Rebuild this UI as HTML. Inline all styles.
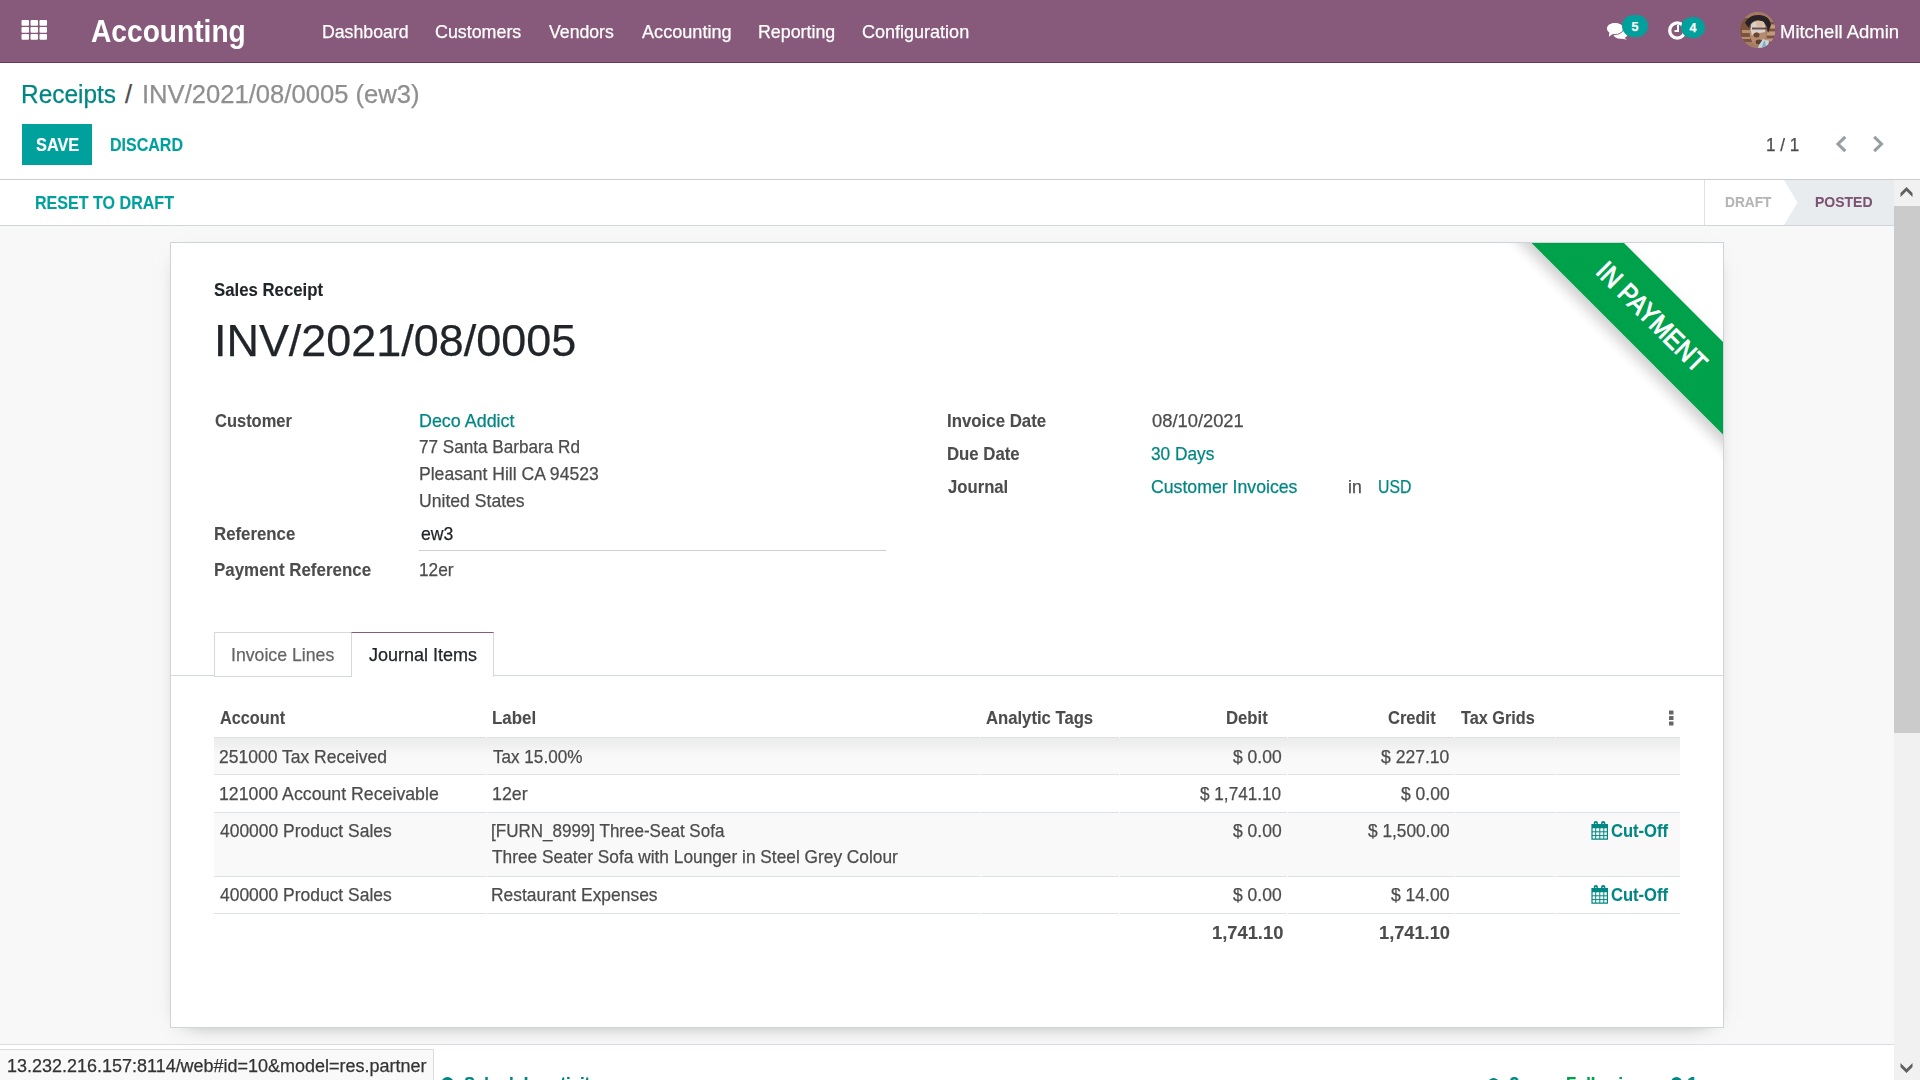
<!DOCTYPE html>
<html><head><meta charset="utf-8"><title>INV/2021/08/0005 (ew3)</title>
<style>
html,body{margin:0;padding:0;width:1920px;height:1080px;overflow:hidden;background:#fff;font-family:"Liberation Sans",sans-serif}
.a{position:absolute}
.t{position:absolute;white-space:nowrap;line-height:1;transform-origin:0 0;-webkit-text-stroke:0.25px currentColor}
</style></head><body>
<!-- navbar -->
<div class="a" style="left:0;top:0;width:1920px;height:62px;background:#875A7B;border-bottom:1px solid #623c58"></div>
<svg class="a" style="left:21px;top:20px" width="27" height="21" viewBox="0 0 27 21">
 <g fill="#fff">
  <rect x="0.5" y="0" width="7.5" height="5.8" rx="1"/><rect x="9.5" y="0" width="7.5" height="5.8" rx="1"/><rect x="18.5" y="0" width="7.5" height="5.8" rx="1"/>
  <rect x="0.5" y="7" width="7.5" height="5.8" rx="1"/><rect x="9.5" y="7" width="7.5" height="5.8" rx="1"/><rect x="18.5" y="7" width="7.5" height="5.8" rx="1"/>
  <rect x="0.5" y="14" width="7.5" height="5.8" rx="1"/><rect x="9.5" y="14" width="7.5" height="5.8" rx="1"/><rect x="18.5" y="14" width="7.5" height="5.8" rx="1"/>
 </g>
</svg>
<!-- chat icon -->
<svg class="a" style="left:1600px;top:10px" width="40" height="35" viewBox="0 0 40 35">
 <g fill="#fff">
  <ellipse cx="20.5" cy="24.2" rx="7" ry="4.6"/>
  <path d="M23 27 L27 29.8 L21 28.5 Z"/>
 </g>
 <g fill="#fff" stroke="#875A7B" stroke-width="1.1">
  <path d="M15 18.4 m-8.4 0 a8.4 6 0 1 0 16.8 0 a8.4 6 0 1 0 -16.8 0"/>
 </g>
 <g fill="#fff"><ellipse cx="15" cy="18.4" rx="7.9" ry="5.5"/><path d="M9.5 22 L8.8 26.8 L13.5 23.5 Z"/></g>
</svg>
<div class="a" style="left:1622px;top:15px;width:26px;height:22px;border-radius:11px;background:#00A09D"></div>
<div class="t" style="left:1631.5px;top:21px;font-size:12.5px;font-weight:bold;color:#fff">5</div>
<!-- clock icon -->
<svg class="a" style="left:1666.8px;top:20px" width="22" height="22" viewBox="0 0 22 22">
 <circle cx="10.3" cy="10.5" r="7.6" fill="none" stroke="#fff" stroke-width="3.3"/>
 <path d="M11 5 V11 H7.5" fill="none" stroke="#fff" stroke-width="2"/>
</svg>
<div class="a" style="left:1681px;top:17px;width:24px;height:21px;border-radius:11px;background:#00A09D"></div>
<div class="t" style="left:1689.5px;top:21.9px;font-size:12.5px;font-weight:bold;color:#fff">4</div>
<!-- avatar -->
<svg class="a" style="left:1740px;top:12px" width="36" height="36" viewBox="0 0 36 36">
 <defs><clipPath id="av"><ellipse cx="17.7" cy="18" rx="17.6" ry="18"/></clipPath></defs>
 <g clip-path="url(#av)">
  <rect x="0" y="0" width="36" height="36" fill="#a57c62"/>
  <path d="M0 6 H12 V30 H0 Z" fill="#6f4632" opacity=".75"/>
  <path d="M2 18 H11 V21 H2 Z M1 25 H10 V27 H1Z" fill="#b98f72"/>
  <path d="M26 10 H36 V12 H26Z M27 17 H36 V19 H27Z M27 24 H36 V26 H27Z M25 30 H36 V32 H25Z" fill="#6e4a38" opacity=".8"/>
  <path d="M26 13 H36 V16 H26Z M27 20 H36 V23 H27Z M26 27 H36 V29 H26Z" fill="#c09a7c"/>
  <path d="M5 11 Q9 2 20 3 Q30 4 31 13 L28 21 Q27 9 18 8 Q10 9 9 16 Z" fill="#262228"/>
  <ellipse cx="18" cy="21" rx="8.3" ry="12" fill="#b58c70"/>
  <path d="M11 12 Q16 7 24 10 Q26 15 25 20 L20 21 Q14 19 12 24 Q10 18 11 12Z" fill="#e2dcde" opacity=".85"/>
  <ellipse cx="20" cy="12" rx="4" ry="3" fill="#d8bca0"/>
  <path d="M12 15.5 H27 V17.5 H12Z" fill="#4c3028" opacity=".8"/>
  <ellipse cx="16.5" cy="23" rx="3" ry="2.5" fill="#6a4434"/>
  <ellipse cx="19" cy="30" rx="3.5" ry="2.5" fill="#5e3e30"/>
  <path d="M19 33 L23 27 L29 29 L28 36 H18Z" fill="#c8d8e0"/>
  <path d="M23 31 L25 28 L26 36 H22Z" fill="#7fb0c0"/>
 </g>
</svg>
<!-- control panel -->
<div class="a" style="left:0;top:179px;width:1920px;height:1px;background:#cccccc"></div>
<div class="a" style="left:22px;top:124px;width:70px;height:41px;background:#00A09D"></div>
<svg class="a" style="left:1834px;top:135px" width="54" height="19" viewBox="0 0 54 19">
 <path d="M11.3 1.8 L4 9 L11.3 16.2" fill="none" stroke="#999da6" stroke-width="3.1"/>
 <path d="M40.2 1.8 L47.5 9 L40.2 16.2" fill="none" stroke="#999da6" stroke-width="3.1"/>
</svg>
<!-- statusbar -->
<div class="a" style="left:0;top:225px;width:1920px;height:1px;background:#d0d4db"></div>
<div class="a" style="left:1704px;top:180px;width:1px;height:45px;background:#dee2e6"></div>
<svg class="a" style="left:1784px;top:180px" width="110" height="45" viewBox="0 0 110 45">
 <path d="M0 0 H110 V45 H0 L13.5 22.5 Z" fill="#e9ecef"/>
</svg>
<!-- form background -->
<div class="a" style="left:0;top:226px;width:1894px;height:818px;background:#f8f8f8"></div>
<div class="a" style="left:0;top:1044px;width:1894px;height:1px;background:#dcdde2"></div>
<!-- sheet -->
<div class="a" style="left:170px;top:242px;width:1552px;height:784px;background:#fff;border:1px solid #cfd4db;box-shadow:0 6px 22px -15px rgba(0,0,0,.6)"></div>
<!-- ribbon -->
<svg class="a" style="left:1450px;top:243px" width="273" height="273" viewBox="0 0 273 273">
 <defs><filter id="rs" x="-30%" y="-30%" width="160%" height="160%"><feGaussianBlur in="SourceAlpha" stdDeviation="7"/><feOffset dx="-4" dy="6"/><feComponentTransfer><feFuncA type="linear" slope="0.2"/></feComponentTransfer><feMerge><feMergeNode/><feMergeNode in="SourceGraphic"/></feMerge></filter>
 <clipPath id="rc"><rect x="0" y="0" width="273" height="273"/></clipPath></defs>
 <g clip-path="url(#rc)">
 <polygon points="41.6,-40 134,-40 312,138 312,230.4" fill="#00A14B" filter="url(#rs)"/>
 </g>
 <text transform="translate(201.7,73.9) rotate(45)" x="0" y="9.2" text-anchor="middle" font-family="Liberation Sans" font-size="26.9" fill="#fff" stroke="#fff" stroke-width="1" textLength="143" lengthAdjust="spacingAndGlyphs">IN PAYMENT</text>
</svg>
<!-- reference underline -->
<div class="a" style="left:419px;top:550px;width:467px;height:1px;background:#cfcfcf"></div>
<!-- tabs -->
<div class="a" style="left:171px;top:675px;width:1552px;height:1px;background:#d5d8dd"></div>
<div class="a" style="left:214px;top:632px;width:136px;height:43px;background:#fff;border:1px solid #d5d8dd"></div>
<div class="a" style="left:351px;top:632px;width:141px;height:44px;background:#fff;border:1px solid #d5d8dd;border-top-color:#875A7B;border-bottom:none"></div>
<!-- table -->
<div class="a" style="left:214px;top:737px;width:1466px;height:37px;background:linear-gradient(#ebebeb,#f1f1f1 25%,#f8f8f8 45%,#fafafa)"></div>
<div class="a" style="left:214px;top:813px;width:1466px;height:63px;background:#f9f9f9"></div>
<div class="a" style="left:214px;top:774px;width:1466px;height:1px;background:#dee2e6"></div>
<div class="a" style="left:214px;top:812px;width:1466px;height:1px;background:#dee2e6"></div>
<div class="a" style="left:214px;top:876px;width:1466px;height:1px;background:#dee2e6"></div>
<div class="a" style="left:214px;top:913px;width:1466px;height:1px;background:#dee2e6"></div>
<div class="a" style="left:214px;top:737px;width:1466px;height:1px;background:#dde0e4"></div>
<div class="a" style="left:486px;top:737px;width:1px;height:1px;background:#fff"></div>
<div class="a" style="left:486px;top:774px;width:1px;height:1px;background:#fff"></div>
<div class="a" style="left:486px;top:812px;width:1px;height:1px;background:#fff"></div>
<div class="a" style="left:486px;top:876px;width:1px;height:1px;background:#fff"></div>
<div class="a" style="left:486px;top:913px;width:1px;height:1px;background:#fff"></div>
<div class="a" style="left:980px;top:737px;width:1px;height:1px;background:#fff"></div>
<div class="a" style="left:980px;top:774px;width:1px;height:1px;background:#fff"></div>
<div class="a" style="left:980px;top:812px;width:1px;height:1px;background:#fff"></div>
<div class="a" style="left:980px;top:876px;width:1px;height:1px;background:#fff"></div>
<div class="a" style="left:980px;top:913px;width:1px;height:1px;background:#fff"></div>
<div class="a" style="left:1119px;top:737px;width:1px;height:1px;background:#fff"></div>
<div class="a" style="left:1119px;top:774px;width:1px;height:1px;background:#fff"></div>
<div class="a" style="left:1119px;top:812px;width:1px;height:1px;background:#fff"></div>
<div class="a" style="left:1119px;top:876px;width:1px;height:1px;background:#fff"></div>
<div class="a" style="left:1119px;top:913px;width:1px;height:1px;background:#fff"></div>
<div class="a" style="left:1287px;top:737px;width:1px;height:1px;background:#fff"></div>
<div class="a" style="left:1287px;top:774px;width:1px;height:1px;background:#fff"></div>
<div class="a" style="left:1287px;top:812px;width:1px;height:1px;background:#fff"></div>
<div class="a" style="left:1287px;top:876px;width:1px;height:1px;background:#fff"></div>
<div class="a" style="left:1287px;top:913px;width:1px;height:1px;background:#fff"></div>
<div class="a" style="left:1454px;top:737px;width:1px;height:1px;background:#fff"></div>
<div class="a" style="left:1454px;top:774px;width:1px;height:1px;background:#fff"></div>
<div class="a" style="left:1454px;top:812px;width:1px;height:1px;background:#fff"></div>
<div class="a" style="left:1454px;top:876px;width:1px;height:1px;background:#fff"></div>
<div class="a" style="left:1454px;top:913px;width:1px;height:1px;background:#fff"></div>
<div class="a" style="left:1555px;top:737px;width:1px;height:1px;background:#fff"></div>
<div class="a" style="left:1555px;top:774px;width:1px;height:1px;background:#fff"></div>
<div class="a" style="left:1555px;top:812px;width:1px;height:1px;background:#fff"></div>
<div class="a" style="left:1555px;top:876px;width:1px;height:1px;background:#fff"></div>
<div class="a" style="left:1555px;top:913px;width:1px;height:1px;background:#fff"></div>
<svg class="a" style="left:1668px;top:710px" width="7" height="16" viewBox="0 0 7 16">
 <g fill="#666"><rect x="1" y="0.5" width="4.5" height="4" rx=".6"/><rect x="1" y="6" width="4.5" height="4" rx=".6"/><rect x="1" y="11.5" width="4.5" height="4" rx=".6"/></g>
</svg>
<svg class="a" style="left:1586px;top:816px" width="30" height="30" viewBox="0 0 30 30">
 <g fill="#008784">
  <path d="M5.4 8 H22 V23.8 H5.4 Z M6.6 12.2 V22.6 H20.8 V12.2 Z"/>
  <rect x="9.2" y="12" width="1" height="11"/><rect x="13.3" y="12" width="1" height="11"/><rect x="17.3" y="12" width="1" height="11"/>
  <rect x="6" y="15.3" width="15.5" height="1"/><rect x="6" y="19.1" width="15.5" height="1"/>
  <path d="M7.8 6.5 Q7.8 5 9.8 5 Q11.9 5 11.9 6.5 V10 H7.8 Z M9.3 7 V9.6 H10.4 V7 Z" />
  <path d="M15.1 6.5 Q15.1 5 17.2 5 Q19.3 5 19.3 6.5 V10 H15.1 Z M16.6 7 V9.6 H17.7 V7 Z" />
 </g>
</svg>
<svg class="a" style="left:1586px;top:880px" width="30" height="30" viewBox="0 0 30 30">
 <g fill="#008784">
  <path d="M5.4 8 H22 V23.8 H5.4 Z M6.6 12.2 V22.6 H20.8 V12.2 Z"/>
  <rect x="9.2" y="12" width="1" height="11"/><rect x="13.3" y="12" width="1" height="11"/><rect x="17.3" y="12" width="1" height="11"/>
  <rect x="6" y="15.3" width="15.5" height="1"/><rect x="6" y="19.1" width="15.5" height="1"/>
  <path d="M7.8 6.5 Q7.8 5 9.8 5 Q11.9 5 11.9 6.5 V10 H7.8 Z M9.3 7 V9.6 H10.4 V7 Z" />
  <path d="M15.1 6.5 Q15.1 5 17.2 5 Q19.3 5 19.3 6.5 V10 H15.1 Z M16.6 7 V9.6 H17.7 V7 Z" />
 </g>
</svg>
<!-- chatter partial -->
<div class="a" style="left:441px;top:1077px;width:13px;height:13px;border-radius:50%;background:#008784"></div>
<div class="t" style="left:464px;top:1075px;font-size:18.6px;font-weight:bold;color:#008784;transform:scaleX(0.89)">Schedule activity</div>
<div class="a" style="left:1488px;top:1078px;width:11px;height:11px;border-radius:50%;border:2px solid #008784;box-sizing:border-box"></div>
<div class="t" style="left:1509px;top:1075px;font-size:18.6px;font-weight:bold;color:#008784">0</div>
<div class="t" style="left:1566px;top:1075px;font-size:18.6px;font-weight:bold;color:#00A14B;transform:scaleX(0.89)">Following</div>
<div class="a" style="left:1671px;top:1077px;width:11px;height:11px;border-radius:50%;background:#008784"></div>
<div class="t" style="left:1687px;top:1075px;font-size:18.6px;font-weight:bold;color:#008784">1</div>
<!-- url bubble -->
<div class="a" style="left:-1px;top:1049px;width:433px;height:40px;background:#f9f9f9;border:1px solid #dadce0"></div>
<!-- scrollbar -->
<div class="a" style="left:1894px;top:180px;width:26px;height:900px;background:#f1f1f1"></div>
<div class="a" style="left:1894px;top:206px;width:26px;height:527px;background:#cbcbcb"></div>
<svg class="a" style="left:1900px;top:186px" width="14" height="12" viewBox="0 0 14 12"><path d="M0.5 11 L6.5 5 L12.5 11 V7 L6.5 1 L0.5 7 Z" fill="#606060"/></svg>
<svg class="a" style="left:1900px;top:1062px" width="14" height="12" viewBox="0 0 14 12"><path d="M0.5 1 L6.5 7 L12.5 1 V5 L6.5 11 L0.5 5 Z" fill="#606060"/></svg>
<div class="t" style="left:90.61px;top:16.40px;font-size:31.62px;color:#fff;font-weight:bold;-webkit-text-stroke:0;transform:scaleX(0.8906)">Accounting</div>
<div class="t" style="left:321.65px;top:22.90px;font-size:18.60px;color:#fff;transform:scaleX(0.9517)">Dashboard</div>
<div class="t" style="left:434.84px;top:22.90px;font-size:18.60px;color:#fff;transform:scaleX(0.9596)">Customers</div>
<div class="t" style="left:549.20px;top:22.90px;font-size:18.60px;color:#fff;transform:scaleX(0.9500)">Vendors</div>
<div class="t" style="left:641.70px;top:22.90px;font-size:18.60px;color:#fff;transform:scaleX(0.9736)">Accounting</div>
<div class="t" style="left:757.79px;top:22.90px;font-size:18.60px;color:#fff;transform:scaleX(0.9576)">Reporting</div>
<div class="t" style="left:861.53px;top:22.90px;font-size:18.60px;color:#fff;transform:scaleX(0.9688)">Configuration</div>
<div class="t" style="left:1779.61px;top:22.80px;font-size:18.60px;color:#fff;transform:scaleX(0.9932)">Mitchell Admin</div>
<div class="t" style="left:21.17px;top:81.80px;font-size:25.32px;color:#008784;transform:scaleX(0.9646)">Receipts</div>
<div class="t" style="left:124.90px;top:81.80px;font-size:25.32px;color:#4c4c4c">/</div>
<div class="t" style="left:141.88px;top:81.80px;font-size:25.32px;color:#8f8f8f;transform:scaleX(1.0114)">INV/2021/08/0005 (ew3)</div>
<div class="t" style="left:35.50px;top:135.60px;font-size:18.09px;color:#fff;font-weight:bold;-webkit-text-stroke:0.1px currentColor;transform:scaleX(0.9021)">SAVE</div>
<div class="t" style="left:109.61px;top:135.60px;font-size:18.09px;color:#00A09D;font-weight:bold;-webkit-text-stroke:0.1px currentColor;transform:scaleX(0.8864)">DISCARD</div>
<div class="t" style="left:1766.28px;top:135.90px;font-size:18.60px;color:#4c4c4c;transform:scaleX(0.9200)">1 / 1</div>
<div class="t" style="left:35.01px;top:193.90px;font-size:18.09px;color:#00A09D;font-weight:bold;-webkit-text-stroke:0.1px currentColor;transform:scaleX(0.8891)">RESET TO DRAFT</div>
<div class="t" style="left:1725.12px;top:193.90px;font-size:15.50px;color:#b5b5b5;font-weight:bold;-webkit-text-stroke:0.1px currentColor;transform:scaleX(0.8846)">DRAFT</div>
<div class="t" style="left:1815.10px;top:193.90px;font-size:15.50px;color:#7c5473;font-weight:bold;-webkit-text-stroke:0.1px currentColor;transform:scaleX(0.9032)">POSTED</div>
<div class="t" style="left:214.08px;top:280.80px;font-size:18.19px;color:#212529;font-weight:bold;-webkit-text-stroke:0.1px currentColor;transform:scaleX(0.9222)">Sales Receipt</div>
<div class="t" style="left:213.69px;top:317.80px;font-size:44.75px;color:#212529;transform:scaleX(1.0037)">INV/2021/08/0005</div>
<div class="t" style="left:214.90px;top:411.90px;font-size:18.60px;color:#4c4c4c;font-weight:bold;-webkit-text-stroke:0.1px currentColor;transform:scaleX(0.8862)">Customer</div>
<div class="t" style="left:418.94px;top:411.90px;font-size:18.60px;color:#008784;transform:scaleX(0.9622)">Deco Addict</div>
<div class="t" style="left:418.98px;top:438.20px;font-size:18.60px;color:#4c4c4c;transform:scaleX(0.9214)">77 Santa Barbara Rd</div>
<div class="t" style="left:418.96px;top:464.90px;font-size:18.60px;color:#4c4c4c;transform:scaleX(0.9450)">Pleasant Hill CA 94523</div>
<div class="t" style="left:418.95px;top:491.60px;font-size:18.60px;color:#4c4c4c;transform:scaleX(0.9464)">United States</div>
<div class="t" style="left:214.00px;top:524.90px;font-size:18.60px;color:#4c4c4c;font-weight:bold;-webkit-text-stroke:0.1px currentColor;transform:scaleX(0.9045)">Reference</div>
<div class="t" style="left:421.35px;top:525.40px;font-size:18.60px;color:#212529;transform:scaleX(0.9485)">ew3</div>
<div class="t" style="left:213.99px;top:561.30px;font-size:18.60px;color:#4c4c4c;font-weight:bold;-webkit-text-stroke:0.1px currentColor;transform:scaleX(0.9099)">Payment Reference</div>
<div class="t" style="left:419.17px;top:561.30px;font-size:18.60px;color:#4c4c4c;transform:scaleX(0.9306)">12er</div>
<div class="t" style="left:946.59px;top:411.80px;font-size:18.60px;color:#4c4c4c;font-weight:bold;-webkit-text-stroke:0.1px currentColor;transform:scaleX(0.9056)">Invoice Date</div>
<div class="t" style="left:1152.00px;top:411.80px;font-size:18.60px;color:#4c4c4c;transform:scaleX(0.9860)">08/10/2021</div>
<div class="t" style="left:946.60px;top:444.80px;font-size:18.60px;color:#4c4c4c;font-weight:bold;-webkit-text-stroke:0.1px currentColor;transform:scaleX(0.9013)">Due Date</div>
<div class="t" style="left:1151.07px;top:444.80px;font-size:18.60px;color:#008784;transform:scaleX(0.9284)">30 Days</div>
<div class="t" style="left:947.50px;top:478.30px;font-size:18.60px;color:#4c4c4c;font-weight:bold;-webkit-text-stroke:0.1px currentColor;transform:scaleX(0.8970)">Journal</div>
<div class="t" style="left:1151.45px;top:478.30px;font-size:18.60px;color:#008784;transform:scaleX(0.9510)">Customer Invoices</div>
<div class="t" style="left:1347.55px;top:478.30px;font-size:18.60px;color:#4c4c4c;transform:scaleX(0.9462)">in</div>
<div class="t" style="left:1377.55px;top:478.30px;font-size:18.60px;color:#008784;transform:scaleX(0.8500)">USD</div>
<div class="t" style="left:231.35px;top:645.60px;font-size:18.60px;color:#666666;transform:scaleX(0.9514)">Invoice Lines</div>
<div class="t" style="left:368.80px;top:645.60px;font-size:18.60px;color:#212529;transform:scaleX(0.9676)">Journal Items</div>
<div class="t" style="left:219.60px;top:709.40px;font-size:18.60px;color:#4c4c4c;font-weight:bold;-webkit-text-stroke:0.1px currentColor;transform:scaleX(0.8747)">Account</div>
<div class="t" style="left:491.59px;top:709.40px;font-size:18.60px;color:#4c4c4c;font-weight:bold;-webkit-text-stroke:0.1px currentColor;transform:scaleX(0.9085)">Label</div>
<div class="t" style="left:986.25px;top:709.40px;font-size:18.60px;color:#4c4c4c;font-weight:bold;-webkit-text-stroke:0.1px currentColor;transform:scaleX(0.8962)">Analytic Tags</div>
<div class="t" style="left:1226.10px;top:709.40px;font-size:18.60px;color:#4c4c4c;font-weight:bold;-webkit-text-stroke:0.1px currentColor;transform:scaleX(0.8978)">Debit</div>
<div class="t" style="left:1388.30px;top:709.40px;font-size:18.60px;color:#4c4c4c;font-weight:bold;-webkit-text-stroke:0.1px currentColor;transform:scaleX(0.8880)">Credit</div>
<div class="t" style="left:1461.25px;top:709.40px;font-size:18.60px;color:#4c4c4c;font-weight:bold;-webkit-text-stroke:0.1px currentColor;transform:scaleX(0.8732)">Tax Grids</div>
<div class="t" style="left:218.66px;top:747.50px;font-size:18.60px;color:#4c4c4c;transform:scaleX(0.9415)">251000 Tax Received</div>
<div class="t" style="left:492.50px;top:747.50px;font-size:18.60px;color:#4c4c4c;transform:scaleX(0.9196)">Tax 15.00%</div>
<div class="t" style="left:1233.30px;top:747.50px;font-size:18.60px;color:#4c4c4c;transform:scaleX(0.9402)">$ 0.00</div>
<div class="t" style="left:1381.25px;top:747.50px;font-size:18.60px;color:#4c4c4c;transform:scaleX(0.9438)">$ 227.10</div>
<div class="t" style="left:218.65px;top:784.50px;font-size:18.60px;color:#4c4c4c;transform:scaleX(0.9533)">121000 Account Receivable</div>
<div class="t" style="left:491.54px;top:784.50px;font-size:18.60px;color:#4c4c4c;transform:scaleX(0.9556)">12er</div>
<div class="t" style="left:1200.00px;top:784.50px;font-size:18.60px;color:#4c4c4c;transform:scaleX(0.9233)">$ 1,741.10</div>
<div class="t" style="left:1401.25px;top:784.50px;font-size:18.60px;color:#4c4c4c;transform:scaleX(0.9402)">$ 0.00</div>
<div class="t" style="left:220.00px;top:821.60px;font-size:18.60px;color:#4c4c4c;transform:scaleX(0.9383)">400000 Product Sales</div>
<div class="t" style="left:490.88px;top:821.60px;font-size:18.60px;color:#4c4c4c;transform:scaleX(0.9154)">[FURN_8999] Three-Seat Sofa</div>
<div class="t" style="left:491.80px;top:848.40px;font-size:18.60px;color:#4c4c4c;transform:scaleX(0.9305)">Three Seater Sofa with Lounger in Steel Grey Colour</div>
<div class="t" style="left:1233.30px;top:821.60px;font-size:18.60px;color:#4c4c4c;transform:scaleX(0.9402)">$ 0.00</div>
<div class="t" style="left:1367.50px;top:821.60px;font-size:18.60px;color:#4c4c4c;transform:scaleX(0.9284)">$ 1,500.00</div>
<div class="t" style="left:1611.00px;top:821.60px;font-size:18.60px;color:#008784;font-weight:bold;-webkit-text-stroke:0.1px currentColor;transform:scaleX(0.8906)">Cut-Off</div>
<div class="t" style="left:220.00px;top:885.60px;font-size:18.60px;color:#4c4c4c;transform:scaleX(0.9383)">400000 Product Sales</div>
<div class="t" style="left:490.86px;top:885.60px;font-size:18.60px;color:#4c4c4c;transform:scaleX(0.9367)">Restaurant Expenses</div>
<div class="t" style="left:1233.30px;top:885.60px;font-size:18.60px;color:#4c4c4c;transform:scaleX(0.9402)">$ 0.00</div>
<div class="t" style="left:1390.80px;top:885.60px;font-size:18.60px;color:#4c4c4c;transform:scaleX(0.9419)">$ 14.00</div>
<div class="t" style="left:1611.00px;top:885.60px;font-size:18.60px;color:#008784;font-weight:bold;-webkit-text-stroke:0.1px currentColor;transform:scaleX(0.8906)">Cut-Off</div>
<div class="t" style="left:1211.51px;top:924.00px;font-size:18.60px;color:#4c4c4c;font-weight:bold;-webkit-text-stroke:0.1px currentColor;transform:scaleX(0.9859)">1,741.10</div>
<div class="t" style="left:1379.42px;top:924.00px;font-size:18.60px;color:#4c4c4c;font-weight:bold;-webkit-text-stroke:0.1px currentColor;transform:scaleX(0.9803)">1,741.10</div>
<div class="t" style="left:6.81px;top:1056.50px;font-size:18.09px;color:#333333;transform:scaleX(0.9945)">13.232.216.157:8114/web#id=10&amp;model=res.partner</div>
</body></html>
